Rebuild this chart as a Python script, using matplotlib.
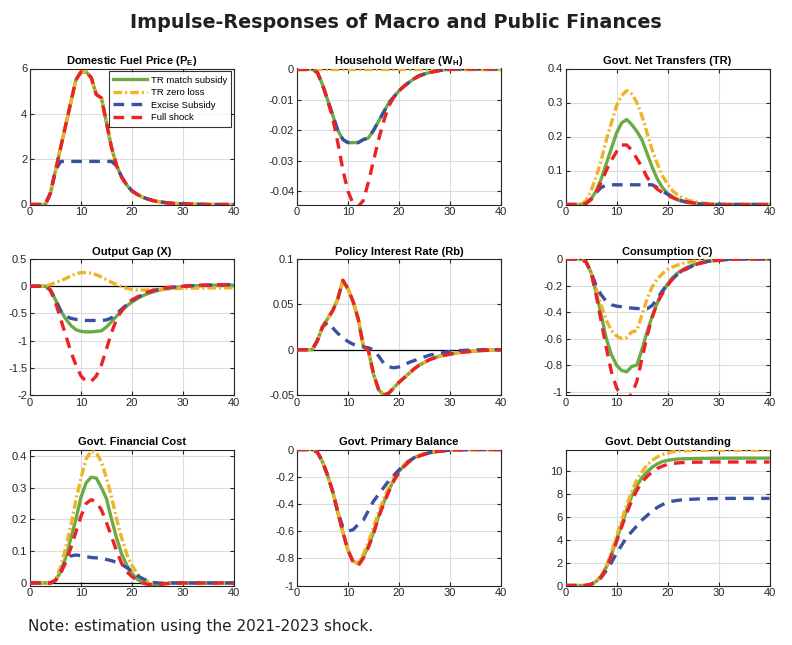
import matplotlib
matplotlib.use("Agg")
from matplotlib import pyplot as plt
from matplotlib.ticker import FuncFormatter
import numpy as np

plt.rcParams['axes.unicode_minus'] = False
plt.rcParams['mathtext.default'] = 'regular'

t = np.arange(41)

def pad(vals, n=41):
    # trailing values that are not listed stay at the last one
    vals = list(vals)
    return np.array(vals + [vals[-1]] * (n - len(vals)))

# Domestic fuel price
pe_full = [0, 0, 0, 0, 0.5, 1.5, 2.5, 3.5, 4.5, 5.5, 5.85, 5.85, 5.6, 4.85, 4.7, 3.6, 2.5, 1.7, 1.2, 0.85,
           0.6, 0.45, 0.33, 0.25, 0.18, 0.13, 0.1, 0.07, 0.05, 0.04, 0.03, 0.02, 0.015, 0.01, 0.005, 0]
pe_excise = [0, 0, 0, 0, 0.5, 1.5, 1.9, 1.9, 1.9, 1.9, 1.9, 1.9, 1.9, 1.9, 1.9, 1.9, 1.9, 1.7, 1.2, 0.85,
             0.6, 0.45, 0.33, 0.25, 0.18, 0.13, 0.1, 0.07, 0.05, 0.04, 0.03, 0.02, 0.015, 0.01, 0.005, 0]

# Household welfare
wh_match = [0, 0, 0, 0, -0.001, -0.005, -0.010, -0.015, -0.020, -0.023, -0.024, -0.024, -0.024, -0.023,
            -0.0225, -0.020, -0.017, -0.014, -0.011, -0.009, -0.007, -0.0055, -0.0042, -0.003, -0.002,
            -0.0015, -0.001, -0.0006, -0.0003, -0.0001, 0, 0, 0, 0, 0]
wh_zero = [0]
wh_excise = [0, 0, 0, 0, -0.001, -0.005, -0.010, -0.015, -0.020, -0.023, -0.024, -0.024, -0.024, -0.023,
             -0.0225, -0.020, -0.017, -0.014, -0.011, -0.009, -0.007, -0.0055, -0.0042, -0.003, -0.002,
             -0.0015, -0.001, -0.0006, -0.0003, -0.0001, 0, 0.0001, 0.0001, 0.0002, 0.0002]
wh_full = [0, 0, 0, 0, -0.001, -0.005, -0.010, -0.016, -0.024, -0.033, -0.040, -0.044, -0.045, -0.043,
           -0.037, -0.030, -0.023, -0.017, -0.012, -0.009, -0.007, -0.0055, -0.004, -0.003, -0.0022,
           -0.0015, -0.001, -0.0007, -0.0004, -0.0001, 0, 0.0001, 0.0001, 0.0002, 0.0002]

# Govt. net transfers
tr_match = [0, 0, 0, 0, 0.003, 0.015, 0.04, 0.075, 0.12, 0.165, 0.21, 0.24, 0.25, 0.235, 0.215, 0.19, 0.15,
            0.11, 0.075, 0.05, 0.033, 0.022, 0.014, 0.009, 0.006, 0.004, 0.002, 0.001, 0]
tr_zero = [0, 0, 0, 0, 0.01, 0.04, 0.08, 0.13, 0.19, 0.24, 0.29, 0.32, 0.335, 0.325, 0.30, 0.26, 0.21, 0.16,
           0.12, 0.085, 0.06, 0.04, 0.028, 0.019, 0.013, 0.009, 0.006, 0.004, 0.003, 0.002, 0.001, 0]
tr_excise = [0, 0, 0, 0, 0.003, 0.015, 0.035, 0.05, 0.057, 0.058, 0.058, 0.058, 0.058, 0.058, 0.058, 0.058,
             0.058, 0.058, 0.05, 0.04, 0.03, 0.022, 0.015, 0.01, 0.007, 0.004, 0.002, 0.001, 0]
tr_full = [0, 0, 0, 0, 0.003, 0.015, 0.035, 0.065, 0.1, 0.13, 0.155, 0.175, 0.175, 0.16, 0.135, 0.11, 0.08,
           0.06, 0.045, 0.035, 0.027, 0.02, 0.014, 0.01, 0.007, 0.005, 0.003, 0.002, 0.001, 0]

# Output gap
x_match = [0, 0, 0, 0, -0.07, -0.25, -0.45, -0.6, -0.72, -0.8, -0.83, -0.84, -0.84, -0.83, -0.82, -0.75,
           -0.65, -0.55, -0.45, -0.36, -0.29, -0.23, -0.18, -0.14, -0.11, -0.08, -0.06, -0.045, -0.03,
           -0.02, -0.01, 0, 0.005, 0.01, 0.012, 0.015, 0.017, 0.018, 0.019, 0.02, 0.02]
x_zero = [0, 0, 0, 0, 0.03, 0.07, 0.1, 0.14, 0.19, 0.23, 0.25, 0.25, 0.24, 0.21, 0.17, 0.12, 0.07, 0.03,
          -0.01, -0.04, -0.06, -0.07, -0.07, -0.07, -0.065, -0.06, -0.055, -0.05, -0.045, -0.042, -0.04,
          -0.038, -0.036, -0.035, -0.034, -0.033, -0.032, -0.031, -0.03, -0.03, -0.03]
x_excise = [0, 0, 0, 0, -0.07, -0.25, -0.45, -0.55, -0.59, -0.61, -0.62, -0.63, -0.63, -0.63, -0.63, -0.62,
            -0.58, -0.5, -0.42, -0.34, -0.27, -0.21, -0.16, -0.12, -0.09, -0.065, -0.045, -0.03, -0.02,
            -0.01, 0, 0.005, 0.01, 0.013, 0.016, 0.019, 0.021, 0.023, 0.025, 0.027, 0.028]
x_full = [0, 0, 0, 0, -0.07, -0.3, -0.6, -0.9, -1.2, -1.45, -1.65, -1.75, -1.75, -1.65, -1.45, -1.15, -0.85,
          -0.6, -0.45, -0.32, -0.25, -0.2, -0.15, -0.11, -0.08, -0.06, -0.04, -0.025, -0.015, -0.005, 0,
          0.01, 0.014, 0.018, 0.021, 0.024, 0.026, 0.028, 0.029, 0.03, 0.03]

# Policy interest rate
rb_full = [0, 0, 0, 0, 0.01, 0.025, 0.034, 0.043, 0.056, 0.0765, 0.067, 0.053, 0.034, 0.004, -0.001,
           -0.027, -0.044, -0.05, -0.048, -0.042, -0.036, -0.031, -0.026, -0.021, -0.017, -0.014, -0.011,
           -0.009, -0.007, -0.006, -0.005, -0.004, -0.003, -0.0025, -0.002, -0.0015, -0.001, -0.0008,
           -0.0005, -0.0003, 0]
rb_excise = [0, 0, 0, 0, 0.01, 0.025, 0.03, 0.024, 0.018, 0.013, 0.009, 0.006, 0.004, 0.003, 0.002, 0.0,
             -0.007, -0.015, -0.019, -0.02, -0.019, -0.017, -0.014, -0.012, -0.01, -0.008, -0.006, -0.005,
             -0.004, -0.003, -0.002, -0.0015, -0.001, -0.0007, -0.0005, -0.0003, 0]

# Consumption
c_match = [0, 0, 0, 0, -0.02, -0.1, -0.25, -0.42, -0.6, -0.72, -0.8, -0.84, -0.85, -0.81, -0.8, -0.68,
           -0.55, -0.43, -0.33, -0.25, -0.19, -0.14, -0.105, -0.08, -0.06, -0.045, -0.033, -0.024, -0.017,
           -0.012, -0.008, -0.005, -0.003, -0.001, 0]
c_zero = [0, 0, 0, 0, -0.02, -0.1, -0.22, -0.35, -0.46, -0.54, -0.58, -0.6, -0.59, -0.55, -0.54, -0.42,
          -0.3, -0.21, -0.15, -0.11, -0.08, -0.06, -0.045, -0.033, -0.025, -0.018, -0.013, -0.009, -0.006,
          -0.004, -0.002, 0]
c_excise = [0, 0, 0, 0, -0.02, -0.1, -0.2, -0.27, -0.32, -0.345, -0.355, -0.36, -0.365, -0.37, -0.373,
            -0.375, -0.375, -0.35, -0.3, -0.24, -0.19, -0.15, -0.115, -0.09, -0.07, -0.05, -0.035, -0.025,
            -0.017, -0.012, -0.008, -0.005, -0.003, -0.001, 0]
c_full = [0, 0, 0, 0, -0.02, -0.1, -0.27, -0.47, -0.67, -0.85, -0.97, -1.03, -1.05, -1.02, -0.92, -0.75,
          -0.58, -0.44, -0.33, -0.26, -0.2, -0.15, -0.115, -0.085, -0.065, -0.05, -0.037, -0.027, -0.02,
          -0.014, -0.01, -0.007, -0.004, -0.002, 0]

# Govt. financial cost
fc_match = [0, 0, 0, 0, 0, 0.008, 0.035, 0.08, 0.14, 0.2, 0.27, 0.315, 0.333, 0.33, 0.3, 0.265, 0.2, 0.14,
            0.09, 0.055, 0.03, 0.012, 0.002, -0.003, -0.005, -0.004, -0.002, -0.001, 0]
fc_zero = [0, 0, 0, 0, 0, 0.01, 0.05, 0.11, 0.18, 0.26, 0.33, 0.39, 0.415, 0.41, 0.38, 0.33, 0.27, 0.2,
           0.14, 0.09, 0.055, 0.03, 0.015, 0.006, 0.001, -0.001, -0.001, 0]
fc_excise = [0, 0, 0, 0, 0, 0.008, 0.035, 0.07, 0.085, 0.088, 0.086, 0.083, 0.08, 0.079, 0.077, 0.074,
             0.07, 0.065, 0.058, 0.048, 0.036, 0.024, 0.014, 0.007, 0.002, 0.0, -0.001, 0]
fc_full = [0, 0, 0, 0, 0, 0.008, 0.03, 0.065, 0.11, 0.16, 0.21, 0.25, 0.262, 0.255, 0.23, 0.19, 0.145, 0.1,
           0.06, 0.035, 0.02, 0.008, 0.0, -0.004, -0.006, -0.006, -0.004, -0.002, 0]

# Govt. primary balance
pb_match = [0, 0, 0, 0, -0.02, -0.09, -0.19, -0.31, -0.46, -0.61, -0.74, -0.82, -0.84, -0.79, -0.71,
            -0.61, -0.49, -0.39, -0.3, -0.22, -0.16, -0.12, -0.085, -0.06, -0.045, -0.033, -0.024, -0.017,
            -0.012, -0.008, -0.005, -0.003, -0.002, -0.001, 0]
pb_zero = [0, 0, 0, 0, -0.02, -0.09, -0.19, -0.31, -0.46, -0.61, -0.74, -0.82, -0.84, -0.77, -0.68,
           -0.57, -0.46, -0.36, -0.28, -0.2, -0.15, -0.11, -0.08, -0.057, -0.042, -0.031, -0.022, -0.016,
           -0.011, -0.007, -0.004, -0.002, -0.001, 0]
pb_excise = [0, 0, 0, 0, -0.02, -0.09, -0.19, -0.31, -0.46, -0.57, -0.6, -0.59, -0.55, -0.52, -0.45,
             -0.38, -0.33, -0.28, -0.23, -0.19, -0.15, -0.115, -0.085, -0.06, -0.045, -0.033, -0.024,
             -0.017, -0.012, -0.008, -0.005, -0.003, -0.002, -0.001, 0]
pb_full = [0, 0, 0, 0, -0.02, -0.09, -0.19, -0.31, -0.46, -0.61, -0.74, -0.83, -0.855, -0.8, -0.72,
           -0.62, -0.5, -0.4, -0.31, -0.23, -0.17, -0.125, -0.09, -0.065, -0.048, -0.035, -0.025, -0.018,
           -0.012, -0.008, -0.005, -0.003, -0.002, -0.001, 0]

# Govt. debt outstanding
d_match = [0, 0, 0, 0, 0, 0.1, 0.35, 0.8, 1.6, 2.7, 4.0, 5.3, 6.6, 7.8, 8.7, 9.4, 9.9, 10.3, 10.6, 10.8,
           10.9, 10.97, 11.02, 11.04, 11.05, 11.06, 11.07, 11.08, 11.08, 11.09, 11.09, 11.1]
d_zero = [0, 0, 0, 0, 0, 0.1, 0.35, 0.85, 1.7, 2.9, 4.3, 5.7, 7.0, 8.2, 9.2, 9.9, 10.5, 10.9, 11.2, 11.4,
          11.55, 11.65, 11.7, 11.74, 11.76, 11.77, 11.78, 11.78, 11.79]
d_excise = [0, 0, 0, 0, 0, 0.1, 0.3, 0.7, 1.3, 2.0, 2.8, 3.5, 4.2, 4.7, 5.2, 5.7, 6.1, 6.5, 6.8, 7.05,
            7.25, 7.35, 7.42, 7.47, 7.5, 7.52, 7.54, 7.55, 7.56, 7.57, 7.58, 7.58, 7.59]
d_full = [0, 0, 0, 0, 0, 0.1, 0.35, 0.75, 1.5, 2.6, 3.8, 5.1, 6.3, 7.4, 8.3, 9.0, 9.5, 9.9, 10.2, 10.4,
          10.55, 10.63, 10.68, 10.71, 10.73, 10.74, 10.75, 10.75, 10.76]

titles = [r'Domestic Fuel Price (P$_{E}$)', r'Household Welfare (W$_{H}$)', 'Govt. Net Transfers (TR)',
          'Output Gap (X)', 'Policy Interest Rate (Rb)', 'Consumption (C)',
          'Govt. Financial Cost', 'Govt. Primary Balance', 'Govt. Debt Outstanding']
series = [
    (pe_full, pe_full, pe_excise, pe_full),
    (wh_match, wh_zero, wh_excise, wh_full),
    (tr_match, tr_zero, tr_excise, tr_full),
    (x_match, x_zero, x_excise, x_full),
    (rb_full, rb_full, rb_excise, rb_full),
    (c_match, c_zero, c_excise, c_full),
    (fc_match, fc_zero, fc_excise, fc_full),
    (pb_match, pb_zero, pb_excise, pb_full),
    (d_match, d_zero, d_excise, d_full),
]
ylims = [(0, 6), (-0.0443, 0.0003), (0, 0.4), (-2, 0.5), (-0.05, 0.1), (-1.025, 0),
         (-0.008, 0.42), (-1, 0), (0, 11.85)]
yticks = [[0, 2, 4, 6], [-0.04, -0.03, -0.02, -0.01, 0], [0, 0.1, 0.2, 0.3, 0.4],
          [-2, -1.5, -1, -0.5, 0, 0.5], [-0.05, 0, 0.05, 0.1], [-1, -0.8, -0.6, -0.4, -0.2, 0],
          [0, 0.1, 0.2, 0.3, 0.4], [-1, -0.8, -0.6, -0.4, -0.2, 0], [0, 2, 4, 6, 8, 10]]
zero_line = [False, False, False, True, True, False, True, False, False]

labels = ['TR match subsidy', 'TR zero loss', 'Excise Subsidy', 'Full shock']
colors = ['#6BAA44', '#F0B323', '#3A50A2', '#EC2227']
styles = [dict(ls='-'), dict(dashes=(2.6, 0.9, 0.6, 0.9)), dict(dashes=(3.2, 2.2)), dict(dashes=(3.2, 2.2))]

fig = plt.figure(figsize=(7.92, 6.45), dpi=100)
lefts = [30 / 792, 297 / 792, 565.5 / 792]
bottoms = [1 - 204.5 / 645, 1 - 395 / 645, 1 - 585.5 / 645]
w, h = 204 / 792, 136 / 645

fmt = FuncFormatter(lambda v, p: '{:g}'.format(round(v, 6)))

for i in range(9):
    ax = fig.add_axes([lefts[i % 3], bottoms[i // 3], w, h])
    if zero_line[i]:
        ax.axhline(0, color='black', lw=0.9, zorder=1)
    for k in range(4):
        ax.plot(t, pad(series[i][k]), color=colors[k], lw=2.4, label=labels[k], **styles[k], zorder=2 + k)
    ax.set_xlim(0, 40)
    ax.set_ylim(*ylims[i])
    ax.set_xticks([0, 10, 20, 30, 40])
    ax.set_yticks(yticks[i])
    ax.yaxis.set_major_formatter(fmt)
    ax.grid(True, color='#DCDCDC', lw=0.8)
    ax.set_axisbelow(True)
    ax.tick_params(direction='in', length=3, labelsize=8, colors='#262626', top=True, right=True, pad=2)
    for s in ax.spines.values():
        s.set_color('#262626')
        s.set_linewidth(0.8)
    ax.set_title(titles[i], fontsize=8, fontweight='bold', family='Liberation Sans', pad=3)
    for lab in ax.get_xticklabels() + ax.get_yticklabels():
        lab.set_family('Liberation Sans')
    if i == 0:
        leg = ax.legend(loc='upper right', frameon=True, fancybox=False, handlelength=3.6,
                        borderpad=0.45, labelspacing=0.38, handletextpad=0.4, borderaxespad=0.3,
                        prop={'family': 'Liberation Sans', 'size': 6.8})
        leg.get_frame().set_edgecolor('black')
        leg.get_frame().set_linewidth(0.8)

fig.text(0.5, 1 - 22 / 645, 'Impulse-Responses of Macro and Public Finances', ha='center', va='center',
         fontsize=13.8, fontweight='bold', family='DejaVu Sans', color='#231F20')
fig.text(28 / 792, 1 - 627 / 645, 'Note: estimation using the 2021-2023 shock.', ha='left', va='center',
         fontsize=11, family='DejaVu Sans', color='#231F20')

fig.savefig('out.png', dpi=100)
